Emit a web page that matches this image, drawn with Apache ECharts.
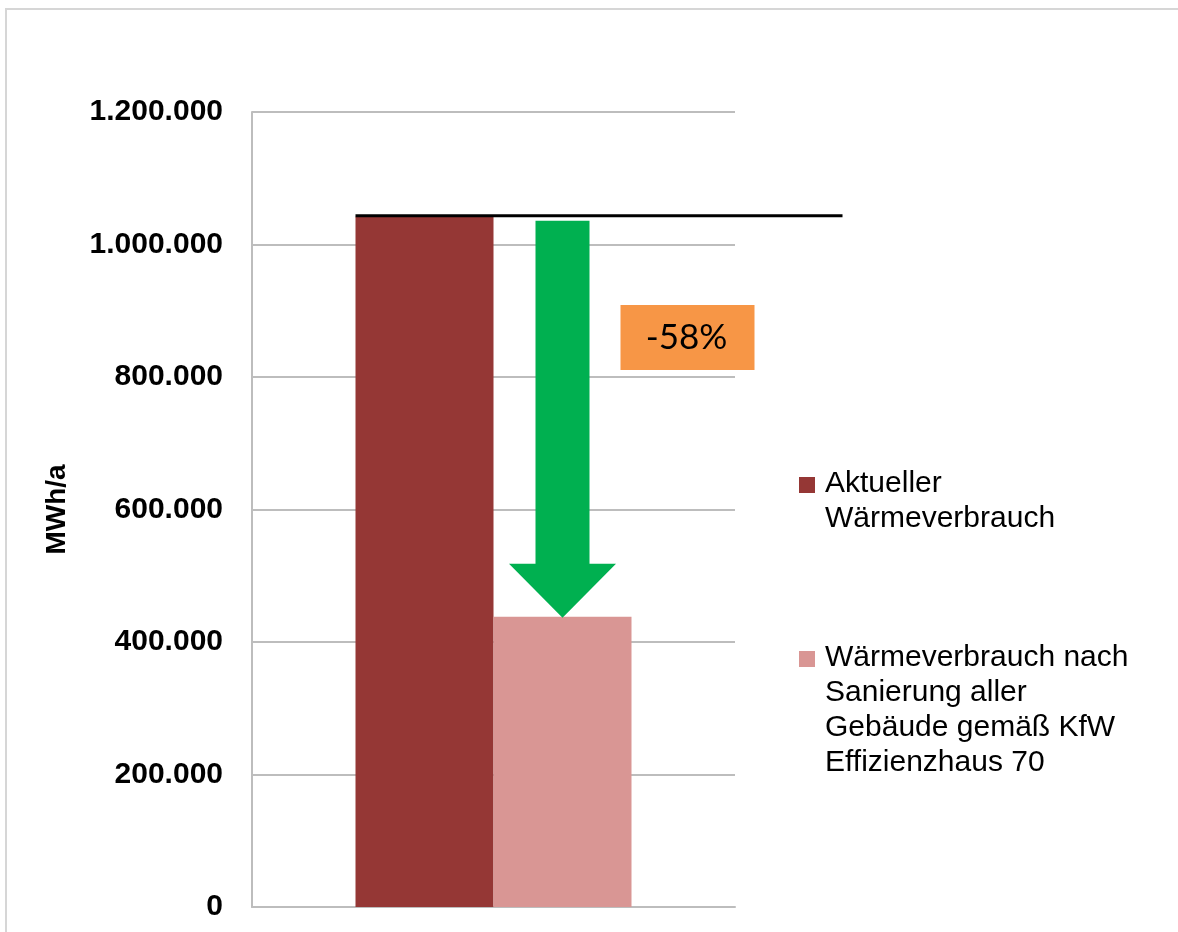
<!DOCTYPE html>
<html>
<head>
<meta charset="utf-8">
<script src="https://cdn.jsdelivr.net/npm/echarts@6/dist/echarts.min.js"></script>
<style>
  html, body { margin: 0; padding: 0; background: #ffffff; }
  #chart { width: 1178px; height: 932px; }
</style>
</head>
<body>
<div id="chart"></div>
<script>
// Heat demand before and after renovation (MWh per year)
const categories = ['Wärmeverbrauch'];
const seriesNames = [
  'Aktueller\nWärmeverbrauch',
  'Wärmeverbrauch nach\nSanierung aller\nGebäude gemäß KfW\nEffizienzhaus 70'
];
const currentValues = [1042000];
const renovatedValues = [438000];
const yAxisMin = 0;
const yAxisMax = 1200000;
const yAxisStep = 200000;

const colors = ['#953735', '#D99694'];
const FONT = '"Liberation Sans", Arial, sans-serif';

// German thousands separator: 1.200.000
const fmt = v => String(v).replace(/\B(?=(\d{3})+(?!\d))/g, '.');
const changePct = Math.round((renovatedValues[0] / currentValues[0] - 1) * 100);
const changeLabel = (changePct < 0 ? '-' : '+') + Math.abs(changePct) + '%';

const BAR_W = 138;

const chart = echarts.init(document.getElementById('chart'), null, { renderer: 'canvas' });

chart.setOption({
  backgroundColor: '#ffffff',
  animation: false,
  grid: { left: 252, right: 443, top: 112, bottom: 25, containLabel: false },
  xAxis: {
    type: 'category',
    data: categories,
    axisLine: { show: true, lineStyle: { color: '#bdbdbd', width: 2 } },
    axisTick: { show: false },
    axisLabel: { show: false },
    splitLine: { show: false }
  },
  yAxis: {
    type: 'value',
    min: yAxisMin,
    max: yAxisMax,
    interval: yAxisStep,
    name: 'MWh/a',
    nameLocation: 'middle',
    nameRotate: 90,
    nameGap: 181,
    nameTextStyle: { fontFamily: FONT, fontWeight: 'bold', fontSize: 28, color: '#000' },
    axisLine: { show: true, lineStyle: { color: '#bdbdbd', width: 2 } },
    axisTick: { show: false },
    axisLabel: {
      formatter: fmt,
      fontFamily: FONT, fontWeight: 'bold', fontSize: 30, color: '#000', margin: 29
    },
    splitLine: { show: true, lineStyle: { color: '#bdbdbd', width: 2 } }
  },
  series: [
    {
      name: seriesNames[0], type: 'bar', data: currentValues,
      barWidth: BAR_W, barGap: '0%',
      itemStyle: { color: colors[0] }
    },
    {
      name: seriesNames[1], type: 'bar', data: renovatedValues,
      barWidth: BAR_W, barGap: '0%',
      itemStyle: { color: colors[1] }
    }
  ]
});

// Annotations placed from the axis scales
const yPix = v => chart.convertToPixel({ yAxisIndex: 0 }, v);
const xCenter = chart.convertToPixel({ xAxisIndex: 0 }, categories[0]);
const bar1Left = xCenter - BAR_W;
const bar2Center = xCenter + BAR_W / 2;
const yCurrent = yPix(currentValues[0]);
const yRenovated = yPix(renovatedValues[0]);

const shaftHalf = 27, headHalf = 53.5, headLen = 53;
const arrowPts = [
  [bar2Center - shaftHalf, yCurrent + 4],
  [bar2Center + shaftHalf, yCurrent + 4],
  [bar2Center + shaftHalf, yRenovated - headLen],
  [bar2Center + headHalf, yRenovated - headLen],
  [bar2Center, yRenovated + 1],
  [bar2Center - headHalf, yRenovated - headLen],
  [bar2Center - shaftHalf, yRenovated - headLen]
];

const legendItems = [
  { name: seriesNames[0], color: colors[0], top: 466 },
  { name: seriesNames[1], color: colors[1], top: 640 }
];
const legendGraphics = [];
legendItems.forEach(it => {
  legendGraphics.push({
    type: 'rect', silent: true,
    shape: { x: 799, y: it.top + 11, width: 16, height: 16 },
    style: { fill: it.color }
  });
  legendGraphics.push({
    type: 'text', silent: true, x: 825, y: it.top,
    style: {
      text: it.name, fill: '#000', font: '30px ' + FONT,
      lineHeight: 35, verticalAlign: 'top', align: 'left'
    }
  });
});

chart.setOption({
  graphic: [
    // frame
    {
      type: 'polyline', silent: true,
      shape: { points: [[6, 932], [6, 9], [1178, 9]] },
      style: { stroke: '#d6d6d6', lineWidth: 2, fill: null }
    },
    // reference line at current demand
    {
      type: 'line', silent: true, z: 10,
      shape: { x1: bar1Left, y1: yCurrent - 1, x2: bar1Left + 487, y2: yCurrent - 1 },
      style: { stroke: '#000', lineWidth: 3 }
    },
    // reduction arrow
    {
      type: 'polygon', silent: true, z: 10,
      shape: { points: arrowPts },
      style: { fill: '#00B050' }
    },
    // percentage box
    {
      type: 'rect', silent: true, z: 10,
      shape: { x: bar2Center + 58, y: 305, width: 134, height: 65 },
      style: { fill: '#F79646' }
    },
    {
      type: 'text', silent: true, z: 11,
      x: bar2Center + 58 + 66, y: 338,
      style: {
        text: changeLabel, fill: '#000', font: '35px Lato, "Open Sans", sans-serif',
        align: 'center', verticalAlign: 'middle'
      }
    }
  ].concat(legendGraphics)
});
</script>
</body>
</html>
